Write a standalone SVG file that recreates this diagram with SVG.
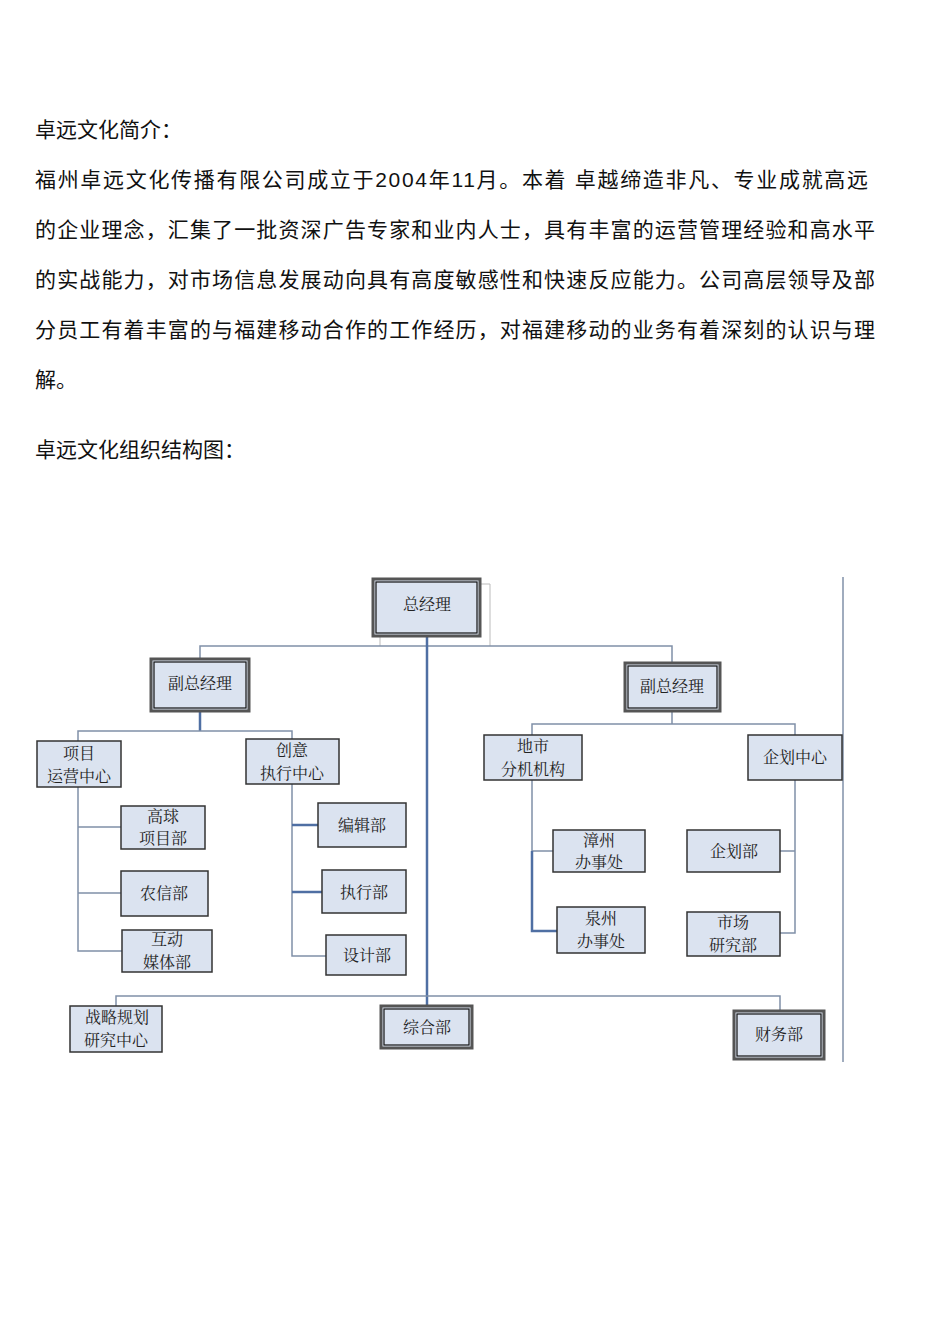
<svg xmlns="http://www.w3.org/2000/svg" width="950" height="1344" viewBox="0 0 950 1344">
<style>
.p{font-family:"Liberation Sans","Noto Sans CJK SC",sans-serif;font-size:21px;fill:#111}
.b{fill:#dbe3f0;stroke:#333;stroke-width:1.5}
.bd{fill:#dbe3f0;stroke:#555;stroke-width:3}
.in{fill:none;stroke:#111;stroke-width:1.2}
.t{font-family:"Liberation Serif","Noto Serif CJK SC","Noto Sans CJK SC",serif;font-size:16px;fill:#222;text-anchor:middle}
.c{stroke:#8090a8;stroke-width:1.5;fill:none}
.cb{stroke:#4f6fa3;stroke-width:2.5;fill:none}
.g{stroke:#bbb;stroke-width:1;fill:none}
</style>
<rect width="950" height="1344" fill="#fff"/>
<text class="p" x="35" y="137">卓远文化简介：</text>
<text class="p" x="35" y="187" textLength="833" lengthAdjust="spacing">福州卓远文化传播有限公司成立于2004年11月。本着 卓越缔造非凡、专业成就高远</text>
<text class="p" x="35" y="237" textLength="840" lengthAdjust="spacing">的企业理念，汇集了一批资深广告专家和业内人士，具有丰富的运营管理经验和高水平</text>
<text class="p" x="35" y="287" textLength="840" lengthAdjust="spacing">的实战能力，对市场信息发展动向具有高度敏感性和快速反应能力。公司高层领导及部</text>
<text class="p" x="35" y="337" textLength="840" lengthAdjust="spacing">分员工有着丰富的与福建移动合作的工作经历，对福建移动的业务有着深刻的认识与理</text>
<text class="p" x="35" y="387">解。</text>
<text class="p" x="35" y="457">卓远文化组织结构图：</text>
<g id="connectors">
<path class="g" d="M481 584H490V646M380 637V646"/>
<path class="c" d="M200 658V646H672V662"/>
<path class="cb" d="M427 637V1006"/>
<path class="cb" d="M200 712V731"/>
<path class="c" d="M78 741V731H292V739"/>
<path class="c" d="M672 712V724M532 735V724H795V735"/>
<path class="c" d="M78 787V951H122M78 827H121M78 893H121"/>
<path class="c" d="M292 784V956H326"/>
<path class="cb" d="M292 825H318M292 892H322"/>
<path class="c" d="M532 780V851H553"/>
<path class="cb" d="M532 851V931H557"/>
<path class="c" d="M795 780V933H780M795 851H780"/>
<path class="c" d="M843 577V1062"/>
<path class="c" d="M116 1006V996H780V1010"/>
</g>
<g id="n1"><rect class="bd" x="373" y="579" width="107" height="57"/><rect class="in" x="376" y="582" width="101" height="51"/><text class="t" x="427" y="610">总经理</text></g>
<g id="n2"><rect class="bd" x="151" y="659" width="98" height="52"/><rect class="in" x="154" y="662" width="92" height="46"/><text class="t" x="200" y="689">副总经理</text></g>
<g id="n3"><rect class="bd" x="625" y="663" width="95" height="48"/><rect class="in" x="628" y="666" width="89" height="42"/><text class="t" x="672" y="692">副总经理</text></g>
<g id="n4"><rect class="b" x="37" y="741" width="84" height="46"/><text class="t" x="79" y="759">项目</text><text class="t" x="79" y="782">运营中心</text></g>
<g id="n5"><rect class="b" x="246" y="739" width="93" height="45"/><text class="t" x="292" y="756">创意</text><text class="t" x="292" y="779">执行中心</text></g>
<g id="n6"><rect class="b" x="121" y="806" width="84" height="43"/><text class="t" x="163" y="822">高球</text><text class="t" x="163" y="844">项目部</text></g>
<g id="n7"><rect class="b" x="121" y="871" width="87" height="45"/><text class="t" x="164" y="899">农信部</text></g>
<g id="n8"><rect class="b" x="122" y="930" width="90" height="42"/><text class="t" x="167" y="945">互动</text><text class="t" x="167" y="968">媒体部</text></g>
<g id="n9"><rect class="b" x="318" y="803" width="88" height="44"/><text class="t" x="362" y="831">编辑部</text></g>
<g id="n10"><rect class="b" x="322" y="870" width="84" height="43"/><text class="t" x="364" y="898">执行部</text></g>
<g id="n11"><rect class="b" x="326" y="935" width="80" height="40"/><text class="t" x="367" y="961">设计部</text></g>
<g id="n12"><rect class="b" x="484" y="735" width="98" height="45"/><text class="t" x="533" y="752">地市</text><text class="t" x="533" y="775">分机机构</text></g>
<g id="n13"><rect class="b" x="748" y="735" width="94" height="45"/><text class="t" x="795" y="763">企划中心</text></g>
<g id="n14"><rect class="b" x="553" y="830" width="92" height="42"/><text class="t" x="599" y="846">漳州</text><text class="t" x="599" y="868">办事处</text></g>
<g id="n15"><rect class="b" x="557" y="907" width="88" height="46"/><text class="t" x="601" y="924">泉州</text><text class="t" x="601" y="947">办事处</text></g>
<g id="n16"><rect class="b" x="687" y="830" width="93" height="42"/><text class="t" x="734" y="857">企划部</text></g>
<g id="n17"><rect class="b" x="687" y="912" width="93" height="44"/><text class="t" x="733" y="928">市场</text><text class="t" x="733" y="951">研究部</text></g>
<g id="n18"><rect class="b" x="70" y="1006" width="92" height="46"/><text class="t" x="117" y="1023">战略规划</text><text class="t" x="116" y="1046">研究中心</text></g>
<g id="n19"><rect class="bd" x="381" y="1006" width="91" height="42"/><rect class="in" x="384" y="1009" width="85" height="36"/><text class="t" x="427" y="1033">综合部</text></g>
<g id="n20"><rect class="bd" x="734" y="1011" width="90" height="48" stroke="#222"/><rect class="in" x="737" y="1014" width="84" height="42"/><text class="t" x="779" y="1040">财务部</text></g>
</svg>
